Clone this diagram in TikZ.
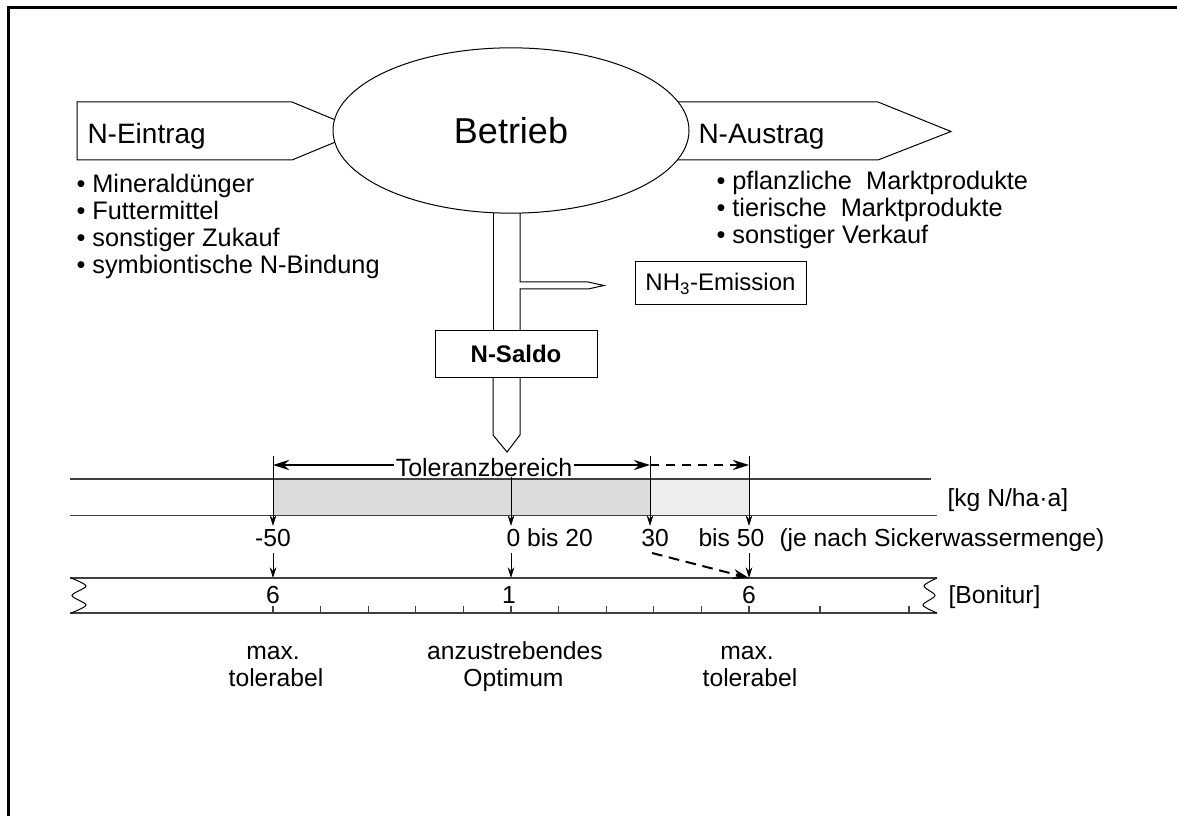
\documentclass[tikz,border=0pt]{standalone}
\usepackage{fontspec}
\setmainfont{Liberation Sans}
\usetikzlibrary{arrows.meta,shapes.geometric}

\definecolor{tolgray}{RGB}{220,220,220}
\definecolor{extgray}{RGB}{238,238,238}

\tikzset{every picture/.style={line width=0.75pt}}
\tikzset{
  txt/.style={inner sep=0.75pt, font=\fontsize{18.5}{22}\selectfont},
  bigtxt/.style={inner sep=0.75pt, anchor=base west, font=\fontsize{21}{25}\selectfont},
  listtxt/.style={inner sep=0pt, anchor=base west, font=\fontsize{19}{22}\selectfont},
  labelbox/.style={draw, inner sep=0pt, font=\fontsize{18}{21}\selectfont},
  scaleline/.style={draw=black!75, line width=0.9pt},
  downarr/.style={-{Stealth[length=8pt,width=5pt]}},
  tolarr/.style={-{Stealth[length=12pt,width=7.5pt]}, line width=2pt},
}

\begin{document}
\begin{tikzpicture}[x=0.75pt,y=0.75pt,yscale=-1,xscale=1]
\useasboundingbox (0,0) rectangle (1177,816);

%Frame
\draw [line width=2.25pt] (8,816) -- (8,7.5) -- (1177,7.5) ;

%Shape: Arrow N-Eintrag
\draw (77,102) -- (292,102) -- (362,131) -- (292,160) -- (77,160) -- cycle ;
%Shape: Arrow N-Austrag
\draw (650,102) -- (878,102) -- (951,131.5) -- (878,160) -- (650,160) -- cycle ;

%Shape: Stem
\draw (493,200) -- (493,331) ;
\draw (520,200) -- (520,282) -- (588,282) -- (604,285.5) -- (588,289) -- (520,289) -- (520,331) ;
\draw (493,378) -- (493,435) -- (507,452) -- (520,435) -- (520,378) ;

%Shape: Ellipse
\node [ellipse, draw, fill=white, inner sep=0pt, minimum width=267pt, minimum height=124pt, font=\fontsize{27}{32}\selectfont] (betrieb) at (511,130.5) {Betrieb};

% Text Node
\node [bigtxt] (eintrag) at (86,144) {N-Eintrag};
% Text Node
\node [bigtxt] (austrag) at (697,143.5) {N-Austrag};

% Lists
\foreach \w [count=\i] in {Mineraldünger, Futtermittel, sonstiger Zukauf, symbiontische N-Bindung}
  \node [listtxt] (in\i) at (76,{166+27*\i}) {• \w};
\foreach \w [count=\i] in {pflanzliche\ \ Marktprodukte, tierische\ \ Marktprodukte, sonstiger Verkauf}
  \node [listtxt] (out\i) at (716,{163+27*\i}) {• \w};

% Boxes
\node [labelbox, minimum width=128.25pt, minimum height=32.25pt] (nh3) at (720.5,283.5) {NH\textsubscript{3}-Emission};
\node [labelbox, minimum width=121.5pt, minimum height=34.5pt, font=\bfseries\fontsize{18}{21}\selectfont] (saldo) at (516,354) {N-Saldo};

%Scale kg N
\fill [tolgray] (273,479) rectangle (650,515.5);
\fill [extgray] (650,479) rectangle (749,515.5);
\draw [scaleline] (70,479) -- (931,479);
\draw [scaleline] (70,515.5) -- (937,515.5);

%Scale Bonitur
\draw [scaleline] (70,578) -- (937,578);
\draw [scaleline] (70,613) -- (937,613);
\draw plot [smooth] coordinates {(71,578) (86,586) (72,595.5) (86,605) (71,613)};
\draw plot [smooth] coordinates {(937,578) (924,586) (935,595.5) (923,605) (937,613)};
\foreach \i in {0,...,10}
  \draw [scaleline] ({273+47.6*\i},606) -- ({273+47.6*\i},613);
\draw [scaleline] (820,606) -- (820,613);
\draw [scaleline] (909,606) -- (909,613);

% Toleranzbereich
\node [txt, font=\fontsize{18.75}{22}\selectfont] (tol) at (484,468) {Toleranzbereich};
\coordinate (tolL) at (273,465);
\coordinate (tolR) at (650,465);
\coordinate (tolF) at (749,465);
\draw [tolarr] (tol.west |- tolL) -- (tolL);
\draw [tolarr] (tol.east |- tolR) -- (tolR);
\draw [tolarr, dashed, dash pattern=on 7pt off 5pt] (tolR) -- (tolF);

%Straight Lines down to the values
\foreach \n/\x in {m/273, t/650, f/749} {
  \coordinate (\n-top) at (\x,456);
  \coordinate (\n-tip) at (\x,526);
  \draw [downarr] (\n-top) -- (\n-tip);
}
\coordinate (z-top) at (511,477);
\coordinate (z-tip) at (511,526);
\draw [downarr] (z-top) -- (z-tip);

% Values
\node [txt, anchor=base] (vm50) at (273,546) {-50};
\node [txt, anchor=base west] (v0) at (505,546) {0 bis 20};
\node [txt, anchor=base] (v30) at (655,546) {30};
\node [txt, anchor=base west] (v50) at (697,546) {bis 50};
\node [txt, anchor=base west] (vnote) at (778,546) {(je nach Sickerwassermenge)};
\node [txt, anchor=base west] (ukg) at (946,506.5) {[kg N/ha·a]};

%Straight Lines down to Bonitur
\foreach \n/\x in {m/273, z/511, f/749} {
  \coordinate (\n-b) at (\x,553);
  \coordinate (\n-bb) at (\x,578);
  \draw [downarr] (\n-b) -- (\n-bb);
}
\coordinate (d30) at (652,553);
\draw [tolarr, line width=1.5pt, dashed, dash pattern=on 8pt off 5pt] (d30) -- (f-bb);

% Bonitur
\node [txt, anchor=base] (bm) at (273,603) {6};
\node [txt, anchor=base] (bz) at (509,603) {1};
\node [txt, anchor=base] (bf) at (749,603) {6};
\node [txt, anchor=base west] (ubon) at (947,603.5) {[Bonitur]};

% Text Node
\node [txt, anchor=base] (maxL) at (273,659.5) {max.};
\node [txt, anchor=base] (tolbL) at (276,686.7) {tolerabel};
\node [txt, anchor=base] (anz) at (515,659.5) {anzustrebendes};
\node [txt, anchor=base] (opt) at (513.5,686.7) {Optimum};
\node [txt, anchor=base] (maxR) at (747,659.5) {max.};
\node [txt, anchor=base] (tolbR) at (750,686.7) {tolerabel};

\end{tikzpicture}
\end{document}
